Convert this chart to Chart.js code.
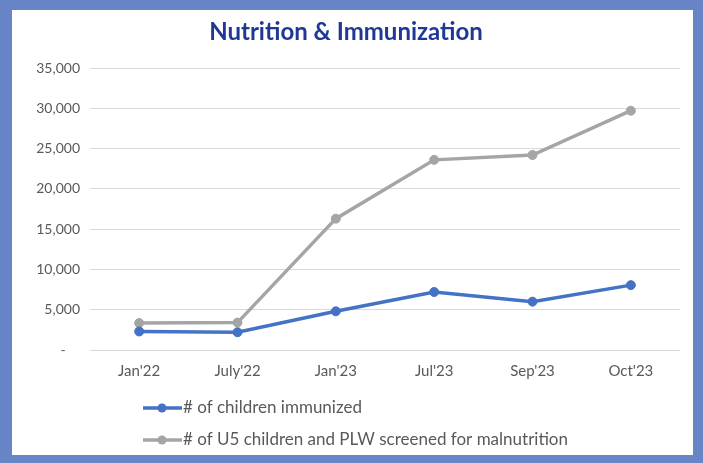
<!DOCTYPE html>
<html>
<head>
<meta charset="utf-8">
<script src="https://cdn.jsdelivr.net/npm/chart.js@4"></script>
<style>
  html, body { margin: 0; padding: 0; }
  body { width: 703px; height: 463px; background: #6785c6; position: relative; overflow: hidden; }
  #panel { position: absolute; left: 12px; top: 10px; width: 681px; height: 445px; background: #ffffff; }
</style>
</head>
<body>
<div id="panel"><canvas id="chart" width="681" height="445"></canvas></div>
<script>
'use strict';

// data
const months = ["Jan'22", "July'22", "Jan'23", "Jul'23", "Sep'23", "Oct'23"];
const immunized = [2300, 2200, 4800, 7200, 6000, 8050];
const screened = [3350, 3400, 16300, 23600, 24200, 29700];
const yTicks = [0, 5000, 10000, 15000, 20000, 25000, 30000, 35000];

const seriesNames = ['# of children immunized', '# of U5 children and PLW screened for malnutrition'];
const seriesColors = ['#4472c4', '#a5a5a5'];

// draws the two-row legend under the axis
const bottomLegend = {
  id: 'bottomLegend',
  afterDraw(chart) {
    const ctx = chart.ctx;
    const rows = [398, 430];
    ctx.save();
    chart.data.datasets.forEach(function (ds, i) {
      const y = rows[i];
      ctx.strokeStyle = ds.borderColor;
      ctx.lineWidth = 3.5;
      ctx.beginPath();
      ctx.moveTo(131, y);
      ctx.lineTo(170, y);
      ctx.stroke();
      ctx.fillStyle = ds.borderColor;
      ctx.beginPath();
      ctx.arc(150, y, 4.5, 0, Math.PI * 2);
      ctx.fill();
      ctx.fillStyle = '#595959';
      ctx.font = '17px Lato';
      ctx.textBaseline = 'middle';
      ctx.textAlign = 'left';
      ctx.fillText(ds.label, 171, y);
    });
    ctx.restore();
  }
};

const ctx = document.getElementById('chart');

window.nutritionChart = new Chart(ctx, {
  type: 'line',
  data: {
    labels: months,
    datasets: [{
      label: seriesNames[0],
      data: immunized,
      borderColor: seriesColors[0],
      backgroundColor: seriesColors[0],
      borderWidth: 3.5,
      pointRadius: 4.5,
      pointBorderWidth: 1,
      tension: 0
    }, {
      label: seriesNames[1],
      data: screened,
      borderColor: seriesColors[1],
      backgroundColor: seriesColors[1],
      borderWidth: 3.5,
      pointRadius: 4.5,
      pointBorderWidth: 1,
      tension: 0
    }]
  },
  options: {
    responsive: false,
    animation: false,
    layout: {
      padding: { left: 0, right: 13, top: 0, bottom: 65 }
    },
    plugins: {
      legend: { display: false },
      tooltip: { enabled: false },
      title: {
        display: true,
        text: 'Nutrition & Immunization',
        color: '#1f3896',
        font: { family: 'Lato', size: 24, weight: 'bold' },
        padding: { top: 7.6, bottom: 21.6 }
      }
    },
    scales: {
      x: {
        offset: true,
        grid: { display: false, drawTicks: false },
        border: { display: false },
        ticks: {
          color: '#595959',
          font: { family: 'Lato', size: 15 },
          padding: 12
        },
        afterFit: function (scale) { scale.height = 40; }
      },
      y: {
        min: 0,
        max: 35000,
        afterBuildTicks: function (scale) {
          scale.ticks = yTicks.map(function (v) { return { value: v }; });
        },
        grid: { color: '#d9d9d9', lineWidth: 1, drawTicks: false },
        border: { display: false },
        ticks: {
          color: '#595959',
          font: { family: 'Lato', size: 14 },
          padding: 10,
          callback: function (v) {
            return v === 0 ? '-    ' : v.toLocaleString('en-US');
          }
        },
        afterFit: function (scale) { scale.width = 78; }
      }
    }
  },
  plugins: [bottomLegend]
});
</script>
</body>
</html>
